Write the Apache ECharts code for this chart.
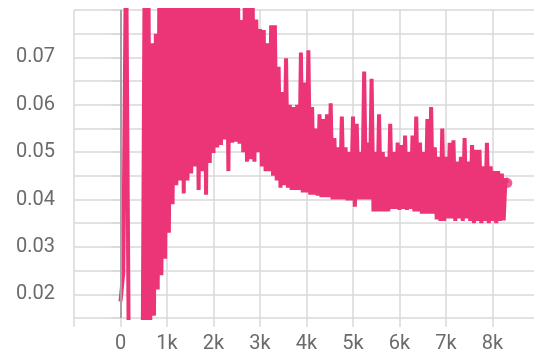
<!DOCTYPE html>
<html>
<head>
<meta charset="utf-8">
<script src="https://cdn.jsdelivr.net/npm/echarts@6/dist/echarts.min.js"></script>
<style>
  html, body { margin: 0; padding: 0; background: #ffffff; overflow: hidden; }
  #chart { width: 542px; height: 355px; }
</style>
</head>
<body>
<div id="chart"></div>
<script>
// Training loss, first few logged steps (irregular spacing)
const warmupSteps = [0, 60, 120, 180, 240, 300, 360, 420];
const warmupLoss  = [0.0185, 0.0245, 0.095, 0.004, 0.006, 0.003, 0.007, 0.005];

// After warm-up the loss is logged every 40 steps starting at step 480
const firstLoggedStep = 480;
const logEvery = 40;

// Steps 480 .. 3000: noisy climb, peaks well above the visible range
const riseLoss = [
  0.012, 0.091, 0.013, 0.088, 0.014, 0.073, 0.0155, 0.075, 0.021, 0.092,
  0.024, 0.089, 0.0275, 0.093, 0.033, 0.090, 0.039, 0.087, 0.043, 0.091,
  0.044, 0.089, 0.0413, 0.092, 0.044, 0.088, 0.0455, 0.090, 0.047, 0.093,
  0.042, 0.089, 0.046, 0.091, 0.041, 0.088, 0.0477, 0.092, 0.0498, 0.090,
  0.051, 0.087, 0.0515, 0.091, 0.0527, 0.089, 0.046, 0.092, 0.052, 0.088,
  0.0522, 0.090, 0.0518, 0.0779, 0.050, 0.089, 0.048, 0.086, 0.0485, 0.084,
  0.048, 0.078, 0.050, 0.076
];

// Steps 3040 .. 8320: slow decay with spikes
const decayLoss = [
  0.047, 0.0758, 0.046, 0.073, 0.046, 0.0768, 0.045, 0.0768, 0.044, 0.068,
  0.0425, 0.0627, 0.043, 0.0698, 0.0425, 0.060, 0.042, 0.0595, 0.042, 0.060,
  0.042, 0.071, 0.0415, 0.0647, 0.0415, 0.0715, 0.041, 0.0595, 0.041, 0.055,
  0.0408, 0.058, 0.0405, 0.057, 0.0405, 0.058, 0.0405, 0.0603, 0.040, 0.053,
  0.040, 0.051, 0.040, 0.0575, 0.040, 0.051, 0.0398, 0.050, 0.0398, 0.0575,
  0.0385, 0.056, 0.040, 0.050, 0.040, 0.067, 0.040, 0.052, 0.040, 0.0655,
  0.0375, 0.050, 0.0375, 0.058, 0.0375, 0.050, 0.0375, 0.049, 0.0375, 0.056,
  0.038, 0.050, 0.038, 0.052, 0.0378, 0.0515, 0.038, 0.0535, 0.0378, 0.050,
  0.038, 0.0535, 0.0375, 0.0575, 0.0375, 0.052, 0.037, 0.050, 0.037, 0.057,
  0.037, 0.0595, 0.037, 0.051, 0.0358, 0.049, 0.0355, 0.055, 0.0355, 0.049,
  0.036, 0.052, 0.036, 0.0525, 0.0355, 0.048, 0.036, 0.049, 0.0355, 0.053,
  0.036, 0.048, 0.0355, 0.0515, 0.035, 0.0505, 0.0355, 0.0505, 0.035, 0.047,
  0.0355, 0.052, 0.035, 0.047, 0.0355, 0.046, 0.035, 0.046, 0.0355, 0.0455,
  0.0356, 0.0445, 0.0435
];

// Axis tick labels
const xLabelSteps = [0, 1000, 2000, 3000, 4000, 5000, 6000, 7000, 8000];
const xLabelTexts = ['0', '1k', '2k', '3k', '4k', '5k', '6k', '7k', '8k'];
const yLabelValues = [0.02, 0.03, 0.04, 0.05, 0.06, 0.07];

const lineColor = '#eb3577';
const gridColor = '#d9d9d9';
const labelColor = '#6b6b6b';

const points = warmupSteps.map((s, i) => [s, warmupLoss[i]]);
riseLoss.concat(decayLoss).forEach((v, i) => {
  points.push([firstLoggedStep + i * logEvery, v]);
});
const lastPoint = points[points.length - 1];

const chart = echarts.init(document.getElementById('chart'), null, { renderer: 'canvas' });

chart.setOption({
  animation: false,
  backgroundColor: '#ffffff',
  grid: { left: 74, top: 10, right: 0, bottom: 37, containLabel: false },
  xAxis: {
    type: 'value',
    min: -1000,
    max: 9000,
    interval: 1000,
    axisLine: { show: false },
    axisTick: { show: true, length: 9, lineStyle: { color: gridColor, width: 1.5 } },
    splitLine: { show: true, lineStyle: { color: gridColor, width: 1.5 } },
    axisLabel: {
      margin: 16,
      fontSize: 20,
      fontFamily: 'Roboto',
      color: labelColor,
      showMinLabel: true,
      showMaxLabel: true,
      formatter: function (v) {
        const k = xLabelSteps.indexOf(Math.round(v));
        return k >= 0 ? xLabelTexts[k] : '';
      }
    }
  },
  yAxis: {
    type: 'value',
    min: 0.015,
    max: 0.08,
    interval: 0.005,
    axisLine: { show: false },
    axisTick: { show: true, length: 9, lineStyle: { color: gridColor, width: 1.5 } },
    splitLine: { show: true, lineStyle: { color: gridColor, width: 1.5 } },
    axisLabel: {
      margin: 19,
      fontSize: 20,
      fontFamily: 'Roboto',
      color: labelColor,
      formatter: function (v) {
        const hit = yLabelValues.find(t => Math.abs(t - v) < 1e-6);
        return hit !== undefined ? hit.toFixed(2) : '';
      }
    }
  },
  series: [
    {
      type: 'line',
      data: points,
      showSymbol: false,
      clip: true,
      lineStyle: { color: lineColor, width: 4, join: 'bevel' },
      itemStyle: { color: lineColor },
      markLine: {
        silent: true,
        symbol: ['none', 'none'],
        label: { show: false },
        lineStyle: { color: '#a3a3a3', width: 2, type: 'solid' },
        data: [{ xAxis: 0 }]
      },
      z: 2
    },
    {
      type: 'scatter',
      data: [lastPoint],
      symbol: 'circle',
      symbolSize: 10,
      itemStyle: { color: lineColor },
      z: 3
    }
  ]
});
</script>
</body>
</html>
